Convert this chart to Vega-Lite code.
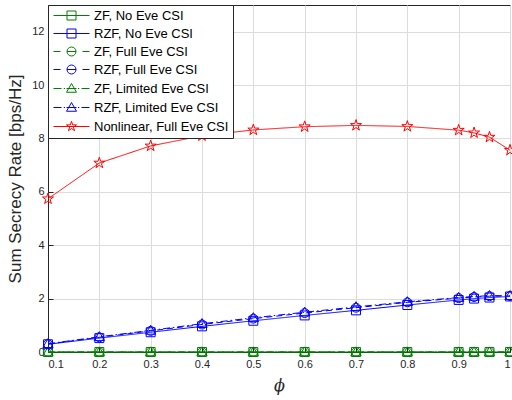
{
  "$schema": "https://vega.github.io/schema/vega-lite/v6.json",
  "width": 462,
  "height": 347,
  "autosize": {"type": "none"},
  "padding": {"left": 48, "top": 5, "right": 2, "bottom": 48},
  "background": "white",
  "config": {
    "view": {"stroke": "#262626", "strokeWidth": 1},
    "axis": {
      "labelFont": "Liberation Sans",
      "labelFontSize": 11,
      "labelColor": "#262626",
      "titleFont": "Liberation Sans",
      "titleColor": "#262626",
      "titleFontWeight": "normal",
      "domainColor": "#262626",
      "tickColor": "#262626",
      "gridColor": "#dcdcdc",
      "gridWidth": 1
    }
  },
  "resolve": {"legend": {"color": "independent", "shape": "independent", "strokeDash": "independent"}},
  "data": {
    "values": [
      {"series": "ZF, No Eve CSI", "phi": 0.1, "rate": 0},
      {"series": "ZF, No Eve CSI", "phi": 0.2, "rate": 0},
      {"series": "ZF, No Eve CSI", "phi": 0.3, "rate": 0},
      {"series": "ZF, No Eve CSI", "phi": 0.4, "rate": 0},
      {"series": "ZF, No Eve CSI", "phi": 0.5, "rate": 0},
      {"series": "ZF, No Eve CSI", "phi": 0.6, "rate": 0},
      {"series": "ZF, No Eve CSI", "phi": 0.7, "rate": 0},
      {"series": "ZF, No Eve CSI", "phi": 0.8, "rate": 0},
      {"series": "ZF, No Eve CSI", "phi": 0.9, "rate": 0},
      {"series": "ZF, No Eve CSI", "phi": 0.93, "rate": 0},
      {"series": "ZF, No Eve CSI", "phi": 0.96, "rate": 0},
      {"series": "ZF, No Eve CSI", "phi": 1.0, "rate": 0},
      {"series": "ZF, Full Eve CSI", "phi": 0.1, "rate": 0},
      {"series": "ZF, Full Eve CSI", "phi": 0.2, "rate": 0},
      {"series": "ZF, Full Eve CSI", "phi": 0.3, "rate": 0},
      {"series": "ZF, Full Eve CSI", "phi": 0.4, "rate": 0},
      {"series": "ZF, Full Eve CSI", "phi": 0.5, "rate": 0},
      {"series": "ZF, Full Eve CSI", "phi": 0.6, "rate": 0},
      {"series": "ZF, Full Eve CSI", "phi": 0.7, "rate": 0},
      {"series": "ZF, Full Eve CSI", "phi": 0.8, "rate": 0},
      {"series": "ZF, Full Eve CSI", "phi": 0.9, "rate": 0},
      {"series": "ZF, Full Eve CSI", "phi": 0.93, "rate": 0},
      {"series": "ZF, Full Eve CSI", "phi": 0.96, "rate": 0},
      {"series": "ZF, Full Eve CSI", "phi": 1.0, "rate": 0},
      {"series": "ZF, Limited Eve CSI", "phi": 0.1, "rate": 0},
      {"series": "ZF, Limited Eve CSI", "phi": 0.2, "rate": 0},
      {"series": "ZF, Limited Eve CSI", "phi": 0.3, "rate": 0},
      {"series": "ZF, Limited Eve CSI", "phi": 0.4, "rate": 0},
      {"series": "ZF, Limited Eve CSI", "phi": 0.5, "rate": 0},
      {"series": "ZF, Limited Eve CSI", "phi": 0.6, "rate": 0},
      {"series": "ZF, Limited Eve CSI", "phi": 0.7, "rate": 0},
      {"series": "ZF, Limited Eve CSI", "phi": 0.8, "rate": 0},
      {"series": "ZF, Limited Eve CSI", "phi": 0.9, "rate": 0},
      {"series": "ZF, Limited Eve CSI", "phi": 0.93, "rate": 0},
      {"series": "ZF, Limited Eve CSI", "phi": 0.96, "rate": 0},
      {"series": "ZF, Limited Eve CSI", "phi": 1.0, "rate": 0},
      {"series": "RZF, No Eve CSI", "phi": 0.1, "rate": 0.29},
      {"series": "RZF, No Eve CSI", "phi": 0.2, "rate": 0.52},
      {"series": "RZF, No Eve CSI", "phi": 0.3, "rate": 0.74},
      {"series": "RZF, No Eve CSI", "phi": 0.4, "rate": 0.96},
      {"series": "RZF, No Eve CSI", "phi": 0.5, "rate": 1.17},
      {"series": "RZF, No Eve CSI", "phi": 0.6, "rate": 1.37},
      {"series": "RZF, No Eve CSI", "phi": 0.7, "rate": 1.56},
      {"series": "RZF, No Eve CSI", "phi": 0.8, "rate": 1.76},
      {"series": "RZF, No Eve CSI", "phi": 0.9, "rate": 1.95},
      {"series": "RZF, No Eve CSI", "phi": 0.93, "rate": 2.0},
      {"series": "RZF, No Eve CSI", "phi": 0.96, "rate": 2.04},
      {"series": "RZF, No Eve CSI", "phi": 1.0, "rate": 2.08},
      {"series": "RZF, Full Eve CSI", "phi": 0.1, "rate": 0.3},
      {"series": "RZF, Full Eve CSI", "phi": 0.2, "rate": 0.55},
      {"series": "RZF, Full Eve CSI", "phi": 0.3, "rate": 0.79},
      {"series": "RZF, Full Eve CSI", "phi": 0.4, "rate": 1.03},
      {"series": "RZF, Full Eve CSI", "phi": 0.5, "rate": 1.25},
      {"series": "RZF, Full Eve CSI", "phi": 0.6, "rate": 1.46},
      {"series": "RZF, Full Eve CSI", "phi": 0.7, "rate": 1.66},
      {"series": "RZF, Full Eve CSI", "phi": 0.8, "rate": 1.86},
      {"series": "RZF, Full Eve CSI", "phi": 0.9, "rate": 2.02},
      {"series": "RZF, Full Eve CSI", "phi": 0.93, "rate": 2.06},
      {"series": "RZF, Full Eve CSI", "phi": 0.96, "rate": 2.09},
      {"series": "RZF, Full Eve CSI", "phi": 1.0, "rate": 2.1},
      {"series": "RZF, Limited Eve CSI", "phi": 0.1, "rate": 0.31},
      {"series": "RZF, Limited Eve CSI", "phi": 0.2, "rate": 0.57},
      {"series": "RZF, Limited Eve CSI", "phi": 0.3, "rate": 0.81},
      {"series": "RZF, Limited Eve CSI", "phi": 0.4, "rate": 1.06},
      {"series": "RZF, Limited Eve CSI", "phi": 0.5, "rate": 1.28},
      {"series": "RZF, Limited Eve CSI", "phi": 0.6, "rate": 1.49},
      {"series": "RZF, Limited Eve CSI", "phi": 0.7, "rate": 1.69},
      {"series": "RZF, Limited Eve CSI", "phi": 0.8, "rate": 1.88},
      {"series": "RZF, Limited Eve CSI", "phi": 0.9, "rate": 2.04},
      {"series": "RZF, Limited Eve CSI", "phi": 0.93, "rate": 2.08},
      {"series": "RZF, Limited Eve CSI", "phi": 0.96, "rate": 2.11},
      {"series": "RZF, Limited Eve CSI", "phi": 1.0, "rate": 2.11},
      {"series": "Nonlinear, Full Eve CSI", "phi": 0.1, "rate": 5.74},
      {"series": "Nonlinear, Full Eve CSI", "phi": 0.2, "rate": 7.08},
      {"series": "Nonlinear, Full Eve CSI", "phi": 0.3, "rate": 7.72},
      {"series": "Nonlinear, Full Eve CSI", "phi": 0.4, "rate": 8.1},
      {"series": "Nonlinear, Full Eve CSI", "phi": 0.5, "rate": 8.32},
      {"series": "Nonlinear, Full Eve CSI", "phi": 0.6, "rate": 8.44},
      {"series": "Nonlinear, Full Eve CSI", "phi": 0.7, "rate": 8.49},
      {"series": "Nonlinear, Full Eve CSI", "phi": 0.8, "rate": 8.45},
      {"series": "Nonlinear, Full Eve CSI", "phi": 0.9, "rate": 8.31},
      {"series": "Nonlinear, Full Eve CSI", "phi": 0.93, "rate": 8.21},
      {"series": "Nonlinear, Full Eve CSI", "phi": 0.96, "rate": 8.05},
      {"series": "Nonlinear, Full Eve CSI", "phi": 1.0, "rate": 7.56}
    ]
  },
  "encoding": {
    "x": {
      "field": "phi",
      "type": "quantitative",
      "scale": {"domain": [0.1, 1], "nice": false, "zero": false},
      "axis": {
        "title": "ϕ",
        "titleFont": "DejaVu Serif",
        "titleFontStyle": "italic",
        "titleFontSize": 16,
        "titlePadding": 8,
        "values": [0.1, 0.2, 0.3, 0.4, 0.5, 0.6, 0.7, 0.8, 0.9, 1],
        "format": "~g",
        "tickSize": -5,
        "labelPadding": 11,
        "grid": true
      }
    },
    "y": {
      "field": "rate",
      "type": "quantitative",
      "scale": {"domain": [0, 13], "nice": false},
      "axis": {
        "title": "Sum Secrecy Rate [bps/Hz]",
        "titleFontSize": 17,
        "titlePadding": 7,
        "values": [0, 2, 4, 6, 8, 10, 12],
        "tickSize": -5,
        "labelPadding": 9,
        "grid": true
      }
    }
  },
  "layer": [
    {
      "mark": {"type": "line", "strokeWidth": 1},
      "encoding": {
        "color": {
          "field": "series",
          "type": "nominal",
          "scale": {
            "domain": ["ZF, No Eve CSI", "RZF, No Eve CSI", "ZF, Full Eve CSI", "RZF, Full Eve CSI", "ZF, Limited Eve CSI", "RZF, Limited Eve CSI", "Nonlinear, Full Eve CSI"],
            "range": ["#008000", "#0000ff", "#008000", "#0000ff", "#008000", "#0000ff", "#ff0000"]
          },
          "legend": null
        },
        "strokeDash": {
          "field": "series",
          "type": "nominal",
          "scale": {
            "domain": ["ZF, No Eve CSI", "RZF, No Eve CSI", "ZF, Full Eve CSI", "RZF, Full Eve CSI", "ZF, Limited Eve CSI", "RZF, Limited Eve CSI", "Nonlinear, Full Eve CSI"],
            "range": [[1, 0], [1, 0], [6, 4], [6, 4], [7, 3, 1.5, 3], [7, 3, 1.5, 3], [1, 0]]
          },
          "legend": null
        }
      }
    },
    {
      "mark": {"type": "point", "filled": false, "strokeWidth": 1, "size": 80, "opacity": 1},
      "encoding": {
        "color": {"field": "series", "type": "nominal", "legend": null},
        "shape": {
          "field": "series",
          "type": "nominal",
          "scale": {
            "domain": ["ZF, No Eve CSI", "RZF, No Eve CSI", "ZF, Full Eve CSI", "RZF, Full Eve CSI", "ZF, Limited Eve CSI", "RZF, Limited Eve CSI", "Nonlinear, Full Eve CSI"],
            "range": ["square", "square", "circle", "circle", "M0,-1.15L1.15,0.85H-1.15Z", "M0,-1.15L1.15,0.85H-1.15Z", "M0,-1.3L0.292,-0.402L1.236,-0.402L0.472,0.153L0.764,1.052L0,0.497L-0.764,1.052L-0.472,0.153L-1.236,-0.402L-0.292,-0.402Z"]
          },
          "legend": null
        }
      }
    },
    {
      "mark": {"type": "point", "filled": false, "strokeWidth": 1, "size": 80, "opacity": 0},
      "encoding": {
        "color": {
          "field": "series",
          "type": "nominal",
          "legend": {
            "title": null,
            "orient": "top-left",
            "offset": 0,
            "padding": 4,
            "strokeColor": "#262626",
            "fillColor": "white",
            "symbolSize": 100,
            "symbolStrokeWidth": 1,
            "symbolOpacity": 1,
            "symbolType": {"expr": "indexof(['ZF, No Eve CSI','RZF, No Eve CSI'], datum.value) >= 0 ? 'M-1,0H6.2M1.7,-0.9H3.5V0.9H1.7Z' : indexof(['ZF, Full Eve CSI','RZF, Full Eve CSI'], datum.value) >= 0 ? 'M-1,0H0.4M1.7,0H3.5M4.8,0H6.2M3.5,0C3.5,0.497 3.097,0.9 2.6,0.9C2.103,0.9 1.7,0.497 1.7,0C1.7,-0.497 2.103,-0.9 2.6,-0.9C3.097,-0.9 3.5,-0.497 3.5,0Z' : indexof(['ZF, Limited Eve CSI','RZF, Limited Eve CSI'], datum.value) >= 0 ? 'M-1,0H0.6M1.05,0H1.3M1.6,0H3.6M3.9,0H4.15M4.6,0H6.2M2.6,-1L3.6,0.75H1.6Z' : 'M-1,0H6.2M2.6,-1.05L2.836,-0.324L3.599,-0.324L2.981,0.124L3.217,0.849L2.6,0.401L1.983,0.849L2.219,0.124L1.601,-0.324L2.364,-0.324Z'"},
            "labelOffset": 29,
            "rowPadding": 4,
            "labelFont": "Liberation Sans",
            "labelFontSize": 13,
            "labelColor": "black",
            "labelLimit": 300
          }
        }
      }
    }
  ]
}
